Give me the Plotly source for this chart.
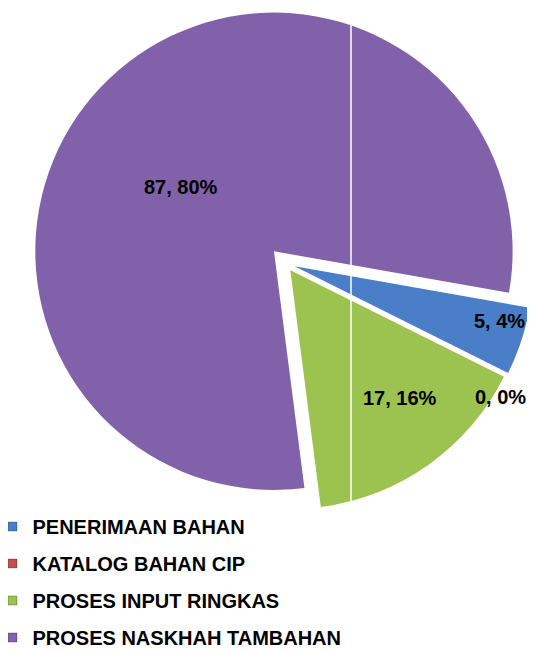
import math
import plotly.graph_objects as go

# data
categories = ["PENERIMAAN BAHAN", "KATALOG BAHAN CIP",
              "PROSES INPUT RINGKAS", "PROSES NASKHAH TAMBAHAN"]
values = [5, 0, 17, 87]
percent_labels = ["4%", "0%", "16%", "80%"]
colors = ["#4A7EC8", "#C0504D", "#9CC250", "#8161AA"]

W, H = 535, 650
FONT = "Liberation Sans, Arial, sans-serif"

# pie geometry in figure pixels (the page adds an 8px body margin)
cx, cy = 277.5, 255
r = 239
rotation = 100
pulls = [0.04, 0.04, 0.035, 0.07]
half = r * (1 + max(pulls))

# where Excel put each data label: radius (fraction of r) and turn from mid angle
label_radius = [0.93, 1.06, 0.74, 0.54]
label_turn = [-3, 5.5, -5, -10.5]

labels = [f"{v}, {p}" for v, p in zip(values, percent_labels)]

fig = go.Figure()

fig.add_trace(go.Pie(
    labels=categories,
    values=values,
    textinfo="none",
    marker=dict(colors=colors, line=dict(width=0)),
    pull=pulls,
    sort=False,
    direction="clockwise",
    rotation=rotation,
    showlegend=False,
    hoverinfo="label+value+percent",
    domain=dict(x=[max(0, (cx - half) / W), min(1, (cx + half) / W)],
                y=[max(0, 1 - (cy + half) / H), min(1, 1 - (cy - half) / H)]),
))

# legend entries with square markers
for cat, col in zip(categories, colors):
    fig.add_trace(go.Scatter(
        x=[None], y=[None], mode="markers", name=cat, legendgroup=cat,
        marker=dict(symbol="square", size=9, color=col,
                    line=dict(width=1, color="rgba(0,0,0,0.25)")),
    ))

# data labels placed from each slice's angle
total = sum(values)
annotations = []
cum = 0
for i, v in enumerate(values):
    mid = rotation + (cum + v / 2) / total * 360
    cum += v
    ang = math.radians(mid + label_turn[i])
    dist = r * label_radius[i]
    px = cx + dist * math.sin(ang)
    py = cy - dist * math.cos(ang)
    annotations.append(dict(
        x=px / W, y=1 - py / H, xref="paper", yref="paper",
        text=labels[i], showarrow=False,
        xanchor="center", yanchor="middle",
        font=dict(family=FONT, size=20, color="black", weight="bold"),
    ))

fig.update_layout(
    width=W, height=H,
    margin=dict(l=0, r=0, t=0, b=0, autoexpand=False),
    paper_bgcolor="white",
    plot_bgcolor="white",
    xaxis=dict(visible=False),
    yaxis=dict(visible=False),
    annotations=annotations,
    showlegend=True,
    legend=dict(
        x=-0.029, y=1 - 499 / H, xanchor="left", yanchor="top",
        orientation="v", traceorder="grouped", tracegroupgap=8,
        font=dict(family=FONT, size=20, color="black", weight="bold"),
        bgcolor="rgba(0,0,0,0)",
    ),
    shapes=[dict(type="line", xref="paper", yref="paper",
                 x0=343 / W, x1=343 / W, y0=0, y1=1,
                 line=dict(color="white", width=1.5), layer="above")],
)

fig.write_html("out.html")
